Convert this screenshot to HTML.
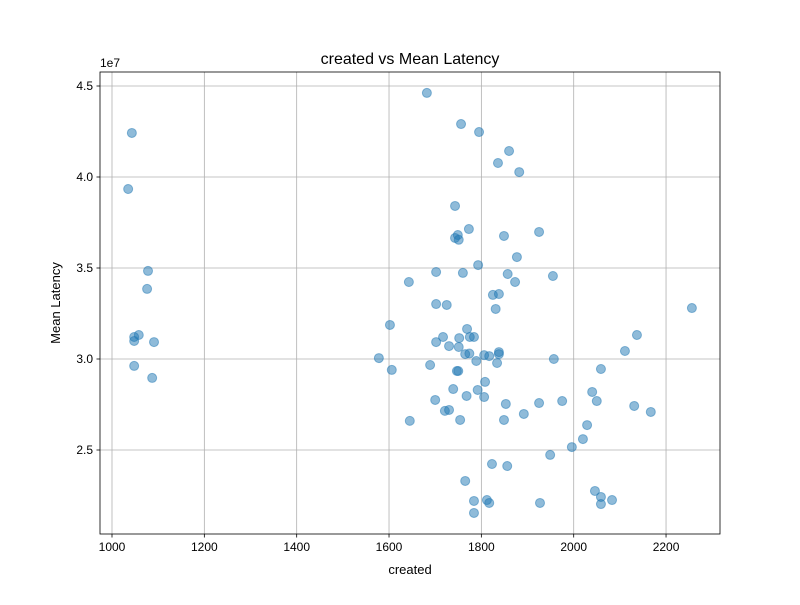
<!DOCTYPE html>
<html><head><meta charset="utf-8"><style>
body{margin:0;background:#fff;font-family:"Liberation Sans","DejaVu Sans",sans-serif}
</style></head><body>
<svg id="chart" width="800" height="600" xmlns="http://www.w3.org/2000/svg">
<rect width="800" height="600" fill="#fff"/>
<g id="grid"></g><g id="pts"></g><g id="axes"></g>
</svg>
<script>
const createdValues=[1682,1043,1756,1795,1860,1836,1882,1035,1743,1925,1773,1849,1749,1743,1751,1078,1877,1702,1760,1793,1857,1955,1076,1643,1873,1825,1838,1702,1725,1831,2256,1602,1769,1717,1775,1784,1752,2137,1058,1048,1048,1091,1702,1730,1751,2111,1765,1774,1806,1817,1838,1838,1578,1957,1789,1834,1606,2059,1689,1747,1750,1048,1087,1808,1739,1792,2040,1768,1806,1700,1853,1925,1975,2050,2131,2167,1892,1721,1730,1754,1849,1645,2029,2020,1996,1949,1823,1856,1765,2046,2059,2059,2083,1784,1812,1817,1927,1784];
const latencyValues=[4.462,4.242,4.291,4.247,4.143,4.077,4.027,3.934,3.841,3.698,3.714,3.676,3.681,3.665,3.655,3.484,3.560,3.478,3.473,3.516,3.467,3.456,3.385,3.423,3.423,3.352,3.357,3.302,3.297,3.275,3.280,3.187,3.165,3.121,3.121,3.121,3.115,3.132,3.132,3.121,3.099,3.093,3.093,3.071,3.066,3.044,3.027,3.030,3.021,3.016,3.038,3.027,3.005,3.000,2.989,2.978,2.940,2.945,2.967,2.934,2.934,2.962,2.896,2.874,2.835,2.830,2.819,2.797,2.791,2.775,2.753,2.758,2.769,2.769,2.742,2.709,2.698,2.715,2.720,2.665,2.665,2.660,2.637,2.560,2.516,2.473,2.423,2.412,2.330,2.275,2.242,2.203,2.225,2.220,2.225,2.209,2.209,2.154];
const xTicks=[1000,1200,1400,1600,1800,2000,2200];
const yTicks=[2.5,3.0,3.5,4.0,4.5];
const NS="http://www.w3.org/2000/svg";
const L=100,R=720,T=72,B=534;
const xs=v=>112+(v-1000)*0.4617;
const ys=v=>450-(v-2.5)*182;
function mk(tag,attrs,parent,txt){const e=document.createElementNS(NS,tag);for(const k in attrs)e.setAttribute(k,attrs[k]);if(txt!==undefined)e.textContent=txt;parent.appendChild(e);return e;}
const grid=document.getElementById('grid'),pts=document.getElementById('pts'),ax=document.getElementById('axes');
xTicks.forEach(t=>{const x=xs(t);
const g=mk('line',{x1:x,x2:x,y1:T,y2:B,stroke:'#b0b0b0','stroke-width':0.8},grid);


mk('line',{x1:x,x2:x,y1:B,y2:B+3.5,stroke:'#000','stroke-width':0.8},ax);
const tx=mk('text',{x:x,y:B+17,'font-size':12,'text-anchor':'middle'},ax,String(t));

});
yTicks.forEach(t=>{const y=ys(t);
const g=mk('line',{x1:L,x2:R,y1:y,y2:y,stroke:'#b0b0b0','stroke-width':0.8},grid);


mk('line',{x1:L-3.5,x2:L,y1:y,y2:y,stroke:'#000','stroke-width':0.8},ax);
const tx=mk('text',{x:L-7,y:y+4,'font-size':12,'text-anchor':'end'},ax,t.toFixed(1));

});
createdValues.forEach((c,i)=>{const p=mk('circle',{cx:xs(c),cy:ys(latencyValues[i]),r:4.5,fill:'#1f77b4','fill-opacity':0.5,stroke:'#1f77b4','stroke-opacity':0.5,'stroke-width':1},pts);

});
const fr=mk('rect',{x:L,y:T,width:R-L,height:B-T,fill:'none',stroke:'#000','stroke-width':0.8},ax);


const off=mk('text',{x:100,y:67,'font-size':12},ax,'1e7');


const ti=mk('text',{x:410,y:64,'font-size':16,'text-anchor':'middle'},ax,'created vs Mean Latency');


const xl=mk('text',{x:410,y:574,'font-size':13,'text-anchor':'middle'},ax,'created');


const yl=mk('text',{x:60,y:303,'font-size':13,'text-anchor':'middle',transform:'rotate(-90 60 303)'},ax,'Mean Latency');


</script>
</body></html>
